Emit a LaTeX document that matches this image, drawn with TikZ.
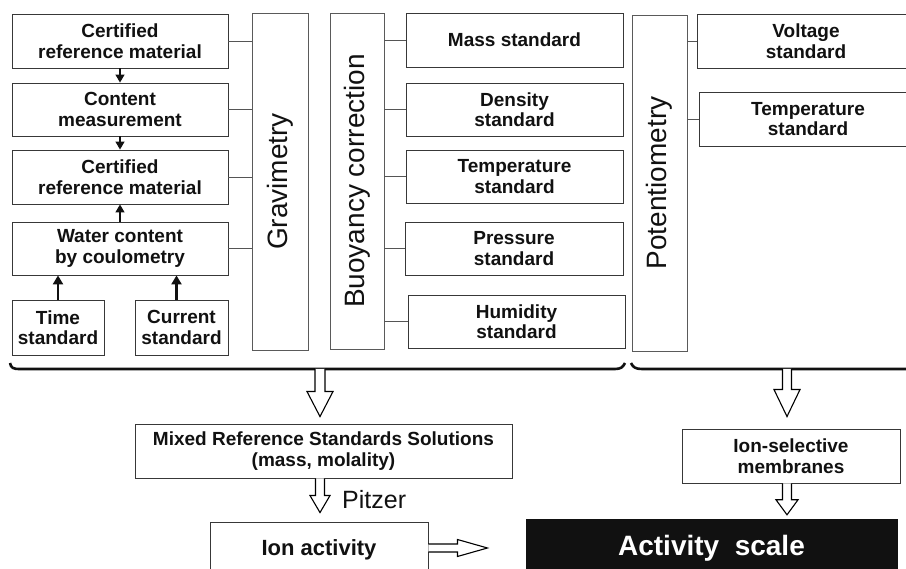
\documentclass[tikz,border=0pt]{standalone}
\usepackage{fontspec}
\setmainfont{Liberation Sans}
\usetikzlibrary{calc,arrows.meta}
\definecolor{bd}{HTML}{383838}
\definecolor{tb}{HTML}{5A5A5A}
\definecolor{cn}{HTML}{555555}
\definecolor{tx}{HTML}{111111}
\newcommand\bx{\fontsize{19}{20.5}\selectfont\bfseries}
\newcommand\rt{\fontsize{28}{30}\selectfont}
\newcommand\pz{\fontsize{25}{27}\selectfont}
\newcommand\hdown[5]{%
  \draw[hollow] ($(#1)+(-#3,0)$) -- ($(#2)+(-#3,-#5)$) -- ($(#2)+(-#4,-#5)$) -- (#2)
    -- ($(#2)+(#4,-#5)$) -- ($(#2)+(#3,-#5)$) -- ($(#1)+(#3,0)$);}
\newcommand\hright[5]{%
  \draw[hollow] ($(#1)+(0,-#3)$) -- ($(#2)+(-#5,-#3)$) -- ($(#2)+(-#5,-#4)$) -- (#2)
    -- ($(#2)+(-#5,#4)$) -- ($(#2)+(-#5,#3)$) -- ($(#1)+(0,#3)$);}
\begin{document}
\begin{tikzpicture}[x=1pt,y=-1pt,
  box/.style={draw=bd, line width=0.9pt, fill=white, inner sep=0pt, align=center, font=\bx, text=tx},
  tall/.style={draw=tb, line width=0.9pt, inner sep=0pt},
  vlabel/.style={rotate=90, font=\rt, text=tx, inner sep=0pt},
  conn/.style={draw=cn, line width=0.9pt},
  smallarr/.style={draw=tx, line width=1.3pt, -{Triangle[width=9pt,length=8pt]}},
  bigup/.style={draw=tx, line width=2.6pt, -{Triangle[width=10pt,length=9pt]}},
  hollow/.style={draw=black, line width=1.1pt, fill=white, line join=miter},
  bracel/.style={line width=2.6pt, draw=tx}]
\useasboundingbox (0,0) rectangle (906,569);
\clip (0,0) rectangle (906,569);

% left column
\node[box, minimum width=216pt, minimum height=54pt] (b1) at (120,41) {Certified\\reference material};
\node[box, minimum width=216pt, minimum height=53pt] (b2) at (120,109.5) {Content\\measurement};
\node[box, minimum width=216pt, minimum height=54pt] (b3) at (120,177) {Certified\\reference material};
\node[box, minimum width=216pt, minimum height=53pt] (b4) at (120,248.5) {Water content\\by coulometry};
\node[box, minimum width=92pt, minimum height=55pt] (time) at (58,327.5) {Time\\standard};
\node[box, minimum width=93pt, minimum height=55pt] (cur) at (181.5,327.5) {Current\\standard};

% tall boxes
\node[tall, minimum width=56pt, minimum height=337pt] (grav) at (280,181.5) {};
\node[vlabel] (gravt) at (grav.center) {Gravimetry};
\node[tall, minimum width=54pt, minimum height=336pt] (buoy) at (357,181) {};
\node[vlabel] (buoyt) at (buoy.center) {Buoyancy correction};
\node[tall, minimum width=55pt, minimum height=336pt] (pot) at (659.5,183) {};
\node[vlabel] (pott) at (pot.center) {Potentiometry};

% standards
\node[box, minimum width=217pt, minimum height=54pt] (mass) at (514.5,40) {Mass standard};
\node[box, minimum width=217pt, minimum height=53pt] (dens) at (514.5,109.5) {Density\\standard};
\node[box, minimum width=217pt, minimum height=53pt] (temp) at (514.5,176.5) {Temperature\\standard};
\node[box, minimum width=218pt, minimum height=53pt] (pres) at (514,248.5) {Pressure\\standard};
\node[box, minimum width=217pt, minimum height=53pt] (hum) at (516.5,321.5) {Humidity\\standard};
\node[box, minimum width=218pt, minimum height=54pt] (volt) at (806,41) {Voltage\\standard};
\node[box, minimum width=218pt, minimum height=54pt] (tstd) at (808,119) {Temperature\\standard};

% lower boxes
\node[box, minimum width=377pt, minimum height=54pt] (mixed) at (323.5,451) {Mixed Reference Standards Solutions\\(mass, molality)};
\node[box, minimum width=218pt, minimum height=54pt] (ionsel) at (791,456) {Ion-selective\\membranes};
\node[box, minimum width=218pt, minimum height=56pt, font=\fontsize{22}{24}\selectfont\bfseries] (ionact) at (319,550) {Ion activity};
\node[draw=tx, fill=tx, text=white, minimum width=371pt, minimum height=58pt, inner sep=0pt,
  font=\fontsize{28}{30}\selectfont\bfseries] (actsc) at (711.5,548) {Activity\ \ scale};

% connectors to Gravimetry
\foreach \n in {b1,b2,b3,b4} \draw[conn] (\n.east) -- (\n.east -| grav.west);
% connectors from Buoyancy correction
\foreach \n in {mass,dens,temp,pres,hum} \draw[conn] (\n.west -| buoy.east) -- (\n.west);
% connectors from Potentiometry
\foreach \n in {volt,tstd} \draw[conn] (\n.west -| pot.east) -- (\n.west);

% small arrows
\draw[smallarr] (b1.south) -- (b2.north);
\draw[smallarr] (b2.south) -- (b3.north);
\draw[smallarr] (b4.north) -- (b3.south);
\draw[bigup] (time.north) -- (time.north |- b4.south);
\coordinate (cu) at ($(cur.north)+(-5,0)$);
\draw[bigup] (cu) -- (cu |- b4.south);

% braces
\draw[bracel] (10,363) .. controls (11,368) and (13,369) .. (20,369) -- (615,369)
  .. controls (621,369) and (623,367) .. (625,363);
\draw[bracel] (631,363) .. controls (633,367) and (635,369) .. (642,369) -- (915,369);
\coordinate (bl) at (320,369);
\coordinate (br) at (787,369);

% hollow arrows
\coordinate (t1) at ($(bl |- mixed.north)+(0,-7)$);
\hdown{bl}{t1}{5}{13}{25}
\coordinate (p1) at (bl |- mixed.south);
\coordinate (t2) at ($(bl |- ionact.north)+(0,-9)$);
\hdown{p1}{t2}{4.5}{10}{17}
\node[font=\pz, text=tx, anchor=base west, inner sep=0pt] (pitz) at (342,509) {Pitzer};
\coordinate (t3) at ($(br |- ionsel.north)+(0,-12)$);
\hdown{br}{t3}{4.5}{13}{27}
\coordinate (p4) at (br |- ionsel.south);
\coordinate (t4) at ($(br |- actsc.north)+(0,-4)$);
\hdown{p4}{t4}{4.5}{11}{15}
\coordinate (ra1) at ($(ionact.east)+(0,-2)$);
\coordinate (ra2) at ($(ra1)+(59,0)$);
\hright{ra1}{ra2}{4}{8.5}{30}
\end{tikzpicture}
\end{document}
